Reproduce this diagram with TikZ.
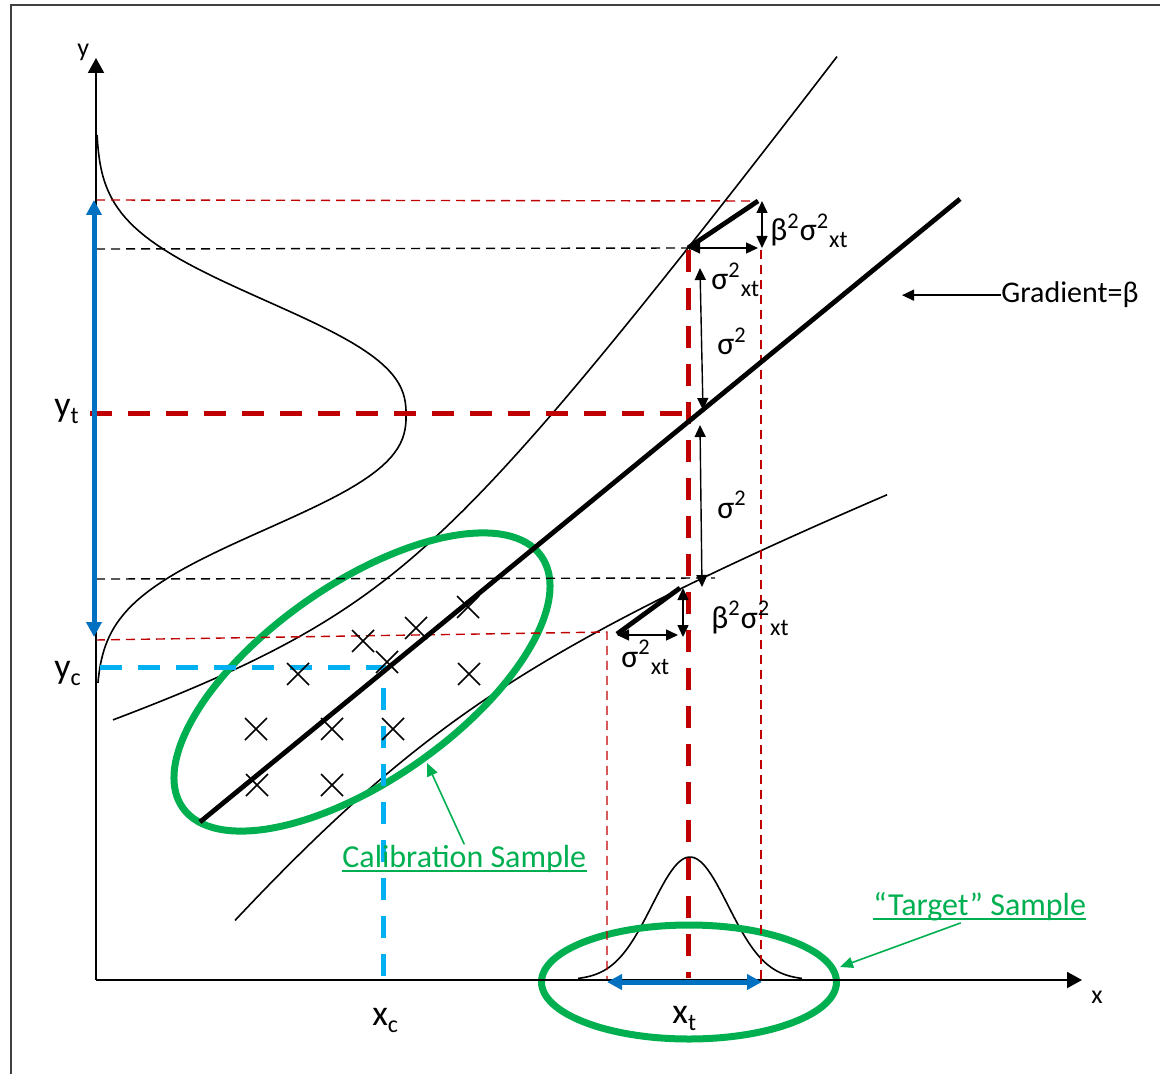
\documentclass[tikz,border=0pt]{standalone}
\usepackage{fontspec}
\setmainfont{Carlito}
\usetikzlibrary{arrows.meta,shapes.geometric,calc}
\definecolor{darkred}{HTML}{C00000}
\definecolor{deepblue}{HTML}{0070C0}
\definecolor{skyblue}{HTML}{00B0F0}
\definecolor{samplegreen}{HTML}{00B050}
\newcommand{\lowsub}[1]{\raisebox{-3.5pt}{\fontsize{12}{14}\selectfont #1}}
\newcommand{\sqxt}{\textsuperscript{2}\lowsub{xt}}

\begin{document}
\begin{tikzpicture}[x=0.5pt,y=-0.5pt,font=\fontsize{16}{19}\selectfont,
  band/.style={line width=0.8pt},
  fineRed/.style={darkred,line width=0.7pt,dash pattern=on 4.5pt off 3pt},
  fineBlack/.style={black,line width=0.7pt,dash pattern=on 4.5pt off 3pt},
  boldRed/.style={darkred,line width=2.5pt,dash pattern=on 11pt off 8pt},
  boldCyan/.style={skyblue,line width=2.5pt,dash pattern=on 11pt off 8pt},
  axisline/.style={line width=1pt,-{Triangle[length=7.5pt,width=8pt]}},
  span/.style={deepblue,line width=2.5pt,{Triangle[length=7.5pt,width=7.5pt]}-{Triangle[length=7.5pt,width=7.5pt]}},
  dim/.style={line width=0.7pt,{Triangle[length=6pt,width=5.5pt]}-{Triangle[length=6pt,width=5.5pt]}},
  ring/.style={ellipse,draw=samplegreen,line width=3.5pt,inner sep=0pt},
  pointer/.style={samplegreen,line width=0.8pt,-{Triangle[length=6.5pt,width=5.5pt]}},
  lab/.style={anchor=base west,inner sep=0pt},
  biglab/.style={lab,font=\fontsize{18}{21}\selectfont},
  greenlab/.style={lab,samplegreen,font=\fontsize{16}{19}\selectfont},
  crossmark/.style={line width=0.75pt}]
\useasboundingbox (0,0) rectangle (1160,1074);
\draw[line width=1pt,black!75] (11,1074) -- (11,5) -- (1160,5);

\coordinate (O) at (96,980);
\coordinate (yend) at (96,58);
\coordinate (xend) at (1082,980);
\coordinate (hiTop) at (758,201);
\coordinate (hiCorner) at (688,248);
\coordinate (hiRight) at (758,248);
\coordinate (loCorner) at (617,634);
\coordinate (loTop) at (680,588);
\coordinate (xc) at (383,667);
\coordinate (gradTip) at (902,292);
\coordinate (calibTip) at (427,763);
\coordinate (targetTip) at (840,967);

\draw[band] plot[domain=113:837,samples=90] (\x,{822-0.82*(\x-200)-10*sqrt(81+0.267*((\x-400)/10)*((\x-400)/10))});
\draw[band] plot[domain=235:887,samples=90] (\x,{822-0.82*(\x-200)+10*sqrt(110.25+0.1886*((\x-400)/10)*((\x-400)/10))});
\draw[band] plot[domain=135:683,samples=120,variable=\t] ({96+310*exp(-((\t-415)/140)*((\t-415)/140)*sqrt(abs(\t-415)/140))},\t);
\draw[band] plot[domain=578:802,samples=80] (\x,{980-123*exp(-((\x-690)/38)*((\x-690)/38)/2)});

\node[ring,minimum width=219pt,minimum height=98pt,rotate=35] (calib) at (362,682) {};
\node[ring,minimum width=147.5pt,minimum height=57pt] (target) at (689,982) {};

\draw[fineRed] (96,200) -- (hiTop);
\draw[fineRed] (761,250) -- (761,980);
\draw[fineBlack] (96,249) -- (hiCorner);
\draw[fineBlack] (96,579) -- (715,578);
\draw[fineRed] (96,640) -- (607,632) -- (607,980);
\draw[boldRed] (90,414) -- (688,414);
\draw[boldRed] (688,250) -- (688,978);
\draw[boldCyan] (100,667) -- (xc) -- (383,980);

\draw[line width=2.4pt] (200,822) -- (960,199);

\foreach \cx/\cy in {468/607,416/628,363/641,387/662,298/674,469/674,256/729,332/729,393/729,257/785,332/785}
  \draw[crossmark] (\cx,\cy) ++(-11,-11) -- ++(22,22) ++(0,-22) -- ++(-22,22);

\draw[axisline] (O) -- (yend);
\draw[axisline] (O) -- (xend);
\draw[span] (94,200) -- (94,637);
\draw[span] (607,982) -- (762,982);

\draw[line width=2.4pt] (hiCorner) -- (hiTop);
\draw[dim] (hiCorner) -- (hiRight);
\draw[dim] (762,201) -- (762,248);
\draw[dim] (700,268) -- (703,410);
\draw[dim] (700,425) -- (702,587);
\draw[line width=2.4pt] (loCorner) -- (loTop);
\draw[dim] (683,588) -- (683,637);
\draw[dim] (617,635) -- (678,635);

\node[lab] (hiBeta) at (770,241) {β\textsuperscript{2}σ\sqxt};
\node[lab] (hiSx) at (711,290) {σ\sqxt};
\node[lab] (hiS) at (717,355) {σ\textsuperscript{2}};
\node[lab] (loS) at (717,518) {σ\textsuperscript{2}};
\node[lab] (loBeta) at (711,628) {β\textsuperscript{2}σ\sqxt};
\node[lab] (loSx) at (621,667) {σ\sqxt};

\node[lab,font=\fontsize{15}{18}\selectfont] (grad) at (1001,303) {Gradient=β};
\draw[line width=0.7pt,-{Triangle[length=6pt,width=5.5pt]}] (grad.west) -- (grad.west -| gradTip);

\node[lab,font=\fontsize{13}{15}\selectfont] (ylab) at (77,57) {y};
\node[lab,font=\fontsize{13}{15}\selectfont] (xlab) at (1091,1003) {x};
\node[biglab] (ytlab) at (54,416) {y\lowsub{t}};
\node[biglab] (yclab) at (54,678) {y\lowsub{c}};
\node[biglab] (xclab) at (372,1025) {x\lowsub{c}};
\node[biglab] (xtlab) at (672,1023) {x\lowsub{t}};

\node[greenlab] (calibtext) at (342,867) {Calibration Sample};
\draw[samplegreen,line width=0.8pt] ($(calibtext.base west)+(0,4)$) -- ($(calibtext.base east)+(0,4)$);
\draw[pointer] (calibtext.north) -- (calibTip);
\node[greenlab] (targettext) at (873,915) {“Target” Sample};
\draw[samplegreen,line width=0.8pt] ($(targettext.base west)+(0,4)$) -- ($(targettext.base east)+(0,4)$);
\draw[pointer] ($(targettext.south)+(-19,2)$) -- (targetTip);
\end{tikzpicture}
\end{document}
